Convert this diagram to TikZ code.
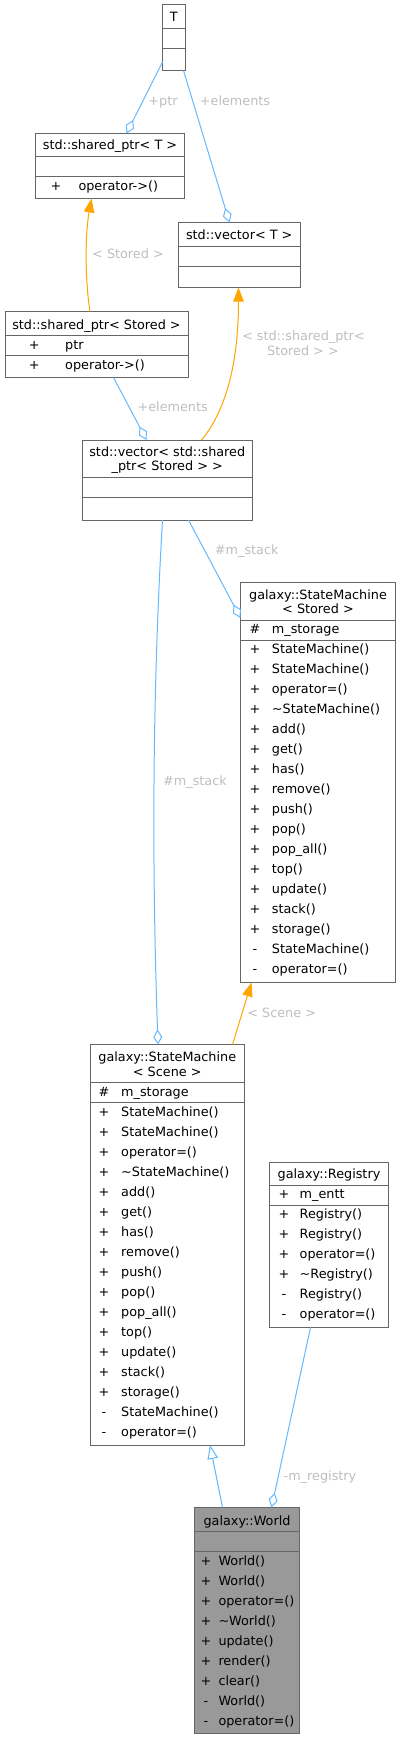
\documentclass[tikz,border=0pt]{standalone}
\usepackage{fontspec}
\setmainfont{DejaVu Sans}
\usetikzlibrary{arrows.meta,calc}
\definecolor{edgeblue}{HTML}{63B8FF}
\definecolor{edgeorange}{HTML}{FFA500}
\definecolor{boxgray}{HTML}{666666}
\definecolor{worldfill}{HTML}{999999}
\definecolor{lblgray}{HTML}{BEBEBE}
\tikzset{
 box/.style={draw=boxgray, line width=1pt, inner sep=0pt, outer sep=0pt, fill=white},
 divline/.style={draw=boxgray, line width=1pt},
 txt/.style={font=\fontsize{12.8}{15}\selectfont, inner sep=0pt, anchor=base, text=black},
 elbl/.style={txt, text=lblgray},
 agg/.style={draw=edgeblue, line width=1pt, -{Diamond[open, length=15pt, width=9pt]}},
 tmpl/.style={draw=edgeorange, line width=1pt, -{Triangle[length=14pt, width=10.5pt, fill=edgeorange]}},
 inh/.style={draw=edgeblue, line width=1pt, -{Triangle[open, length=14pt, width=10.5pt]}},
}
\newcommand\mlist[5]{%
 \foreach [count=\i from 0] \s/\m in {#5} {
   \pgfmathsetmacro\yy{#4+20*\i}
   \node[txt] (#1s\i) at (#2,\yy) {\s};
   \node[txt,anchor=base west] (#1n\i) at (#3,\yy) {\m};
 }}
\newcommand\divat[2]{\draw[divline] (#1.west |- 0,#2) -- (#1.east |- 0,#2);}
\begin{document}
\begin{tikzpicture}[x=1pt,y=-1pt]
\useasboundingbox (0,0) rectangle (401,1739);
% ---------- boxes ----------
\node[box, minimum width=22.5pt, minimum height=65.5pt] (T) at (173.75,37.75) {};
\divat{T}{29}\divat{T}{48.5}
\node[txt] (Tt) at (173.75,21.5) {T};

\node[box, minimum width=149pt, minimum height=65pt] (SPT) at (110,166) {};
\divat{SPT}{156.5}\divat{SPT}{176.5}
\node[txt] (SPTt) at (110,150) {std::shared\_ptr< T >};
\mlist{SPT}{56}{78.3}{190}{+/operator->()}

\node[box, minimum width=121.5pt, minimum height=65pt] (VT) at (239.25,255) {};
\divat{VT}{246.5}\divat{VT}{266}
\node[txt] (VTt) at (239.25,239.5) {std::vector< T >};

\node[box, minimum width=183pt, minimum height=66pt] (SPS) at (96.5,344.5) {};
\divat{SPS}{335}\divat{SPS}{355.5}
\node[txt] (SPSt) at (96.5,329) {std::shared\_ptr< Stored >};
\mlist{SPS}{34.3}{65}{349}{+/ptr,+/operator->()}

\node[box, minimum width=170.5pt, minimum height=80pt] (VS) at (167.25,480) {};
\divat{VS}{477.5}\divat{VS}{497.5}
\node[txt] (VSt1) at (167.25,456) {std::vector< std::shared};
\node[txt] (VSt2) at (167.25,470) {\_ptr< Stored > >};

\node[box, minimum width=155pt, minimum height=400pt] (SMA) at (318,782.5) {};
\divat{SMA}{620}\divat{SMA}{640}
\node[txt] (SMAt1) at (318,599) {galaxy::StateMachine};
\node[txt] (SMAt2) at (318,613.2) {< Stored >};
\mlist{SMAa}{255}{271.7}{633.5}{\#/m\_storage}
\mlist{SMA}{255}{271.7}{653.5}{+/StateMachine(),+/StateMachine(),+/operator=(),+/\textasciitilde StateMachine(),+/add(),+/get(),+/has(),+/remove(),+/push(),+/pop(),+/pop\_all(),+/top(),+/update(),+/stack(),+/storage(),-/StateMachine(),-/operator=()}

\node[box, minimum width=154.5pt, minimum height=400.5pt] (SMB) at (167.25,1244.75) {};
\divat{SMB}{1082.5}\divat{SMB}{1102.5}
\node[txt] (SMBt1) at (167.25,1061.2) {galaxy::StateMachine};
\node[txt] (SMBt2) at (167.25,1076.2) {< Scene >};
\mlist{SMBa}{104}{121}{1096.2}{\#/m\_storage}
\mlist{SMB}{104}{121}{1116.2}{+/StateMachine(),+/StateMachine(),+/operator=(),+/\textasciitilde StateMachine(),+/add(),+/get(),+/has(),+/remove(),+/push(),+/pop(),+/pop\_all(),+/top(),+/update(),+/stack(),+/storage(),-/StateMachine(),-/operator=()}

\node[box, minimum width=119pt, minimum height=165pt] (REG) at (329,1245) {};
\divat{REG}{1185}\divat{REG}{1205}
\node[txt] (REGt) at (329,1178.8) {galaxy::Registry};
\mlist{REGa}{284}{299.5}{1198.8}{+/m\_entt}
\mlist{REG}{284}{299.5}{1218.8}{+/Registry(),+/Registry(),+/operator=(),+/\textasciitilde Registry(),-/Registry(),-/operator=()}

\node[box, fill=worldfill, minimum width=105pt, minimum height=226pt] (W) at (247,1620.5) {};
\divat{W}{1531.5}\divat{W}{1551.5}
\node[txt] (Wt) at (247,1525) {galaxy::World};
\mlist{W}{206}{218.3}{1565}{+/World(),+/World(),+/operator=(),+/\textasciitilde World(),+/update(),+/render(),+/clear(),-/World(),-/operator=()}

% ---------- edges ----------
\draw[agg] ($(T.south west)+(0,-8.5)$) -- ($(SPT.north west)+(91,0)$);
\node[elbl] (l1) at (163,105.2) {+ptr};
\draw[agg] ($(T.south east)+(-1.5,0)$) -- ($(VT.north west)+(51,0)$);
\node[elbl] (l2) at (235,105.2) {+elements};
\draw[tmpl] ($(SPS.north west)+(85,0)$) .. controls (85,280) and (85,235) .. ($(SPT.south west)+(56,0)$);
\node[elbl] (l3) at (128,258.8) {< Stored >};
\draw[tmpl] ($(VS.north west)+(119.5,0)$) .. controls (225,412) and (238.5,365) .. ($(VT.south west)+(60,0)$);
\node[elbl] (l4a) at (303.3,340.5) {< std::shared\_ptr<};
\node[elbl] (l4b) at (303,355.2) {Stored > >};
\draw[agg] ($(SPS.south west)+(108.5,0)$) -- ($(VS.north west)+(64.5,0)$);
\node[elbl] (l5) at (172.7,411.8) {+elements};
\draw[agg] ($(VS.south west)+(106.5,0)$) -- ($(SMA.north west)+(0,35.5)$);
\node[elbl] (l6) at (246.7,554.5) {\#m\_stack};
\draw[agg] ($(VS.south west)+(80.5,0)$) .. controls (152,700) and (152,870) .. ($(SMB.north west)+(68,0)$);
\node[elbl] (l7) at (195,785.5) {\#m\_stack};
\draw[tmpl] ($(SMB.north west)+(142.5,0)$) -- ($(SMA.south west)+(11,0)$);
\node[elbl] (l8) at (281.7,1017.2) {< Scene >};
\draw[inh] ($(W.north west)+(28,0)$) -- ($(SMB.south west)+(120,0)$);
\draw[agg] ($(REG.south west)+(41,0)$) -- ($(W.north west)+(77,0)$);
\node[elbl] (l9) at (320,1480.2) {-m\_registry};
\end{tikzpicture}
\end{document}
